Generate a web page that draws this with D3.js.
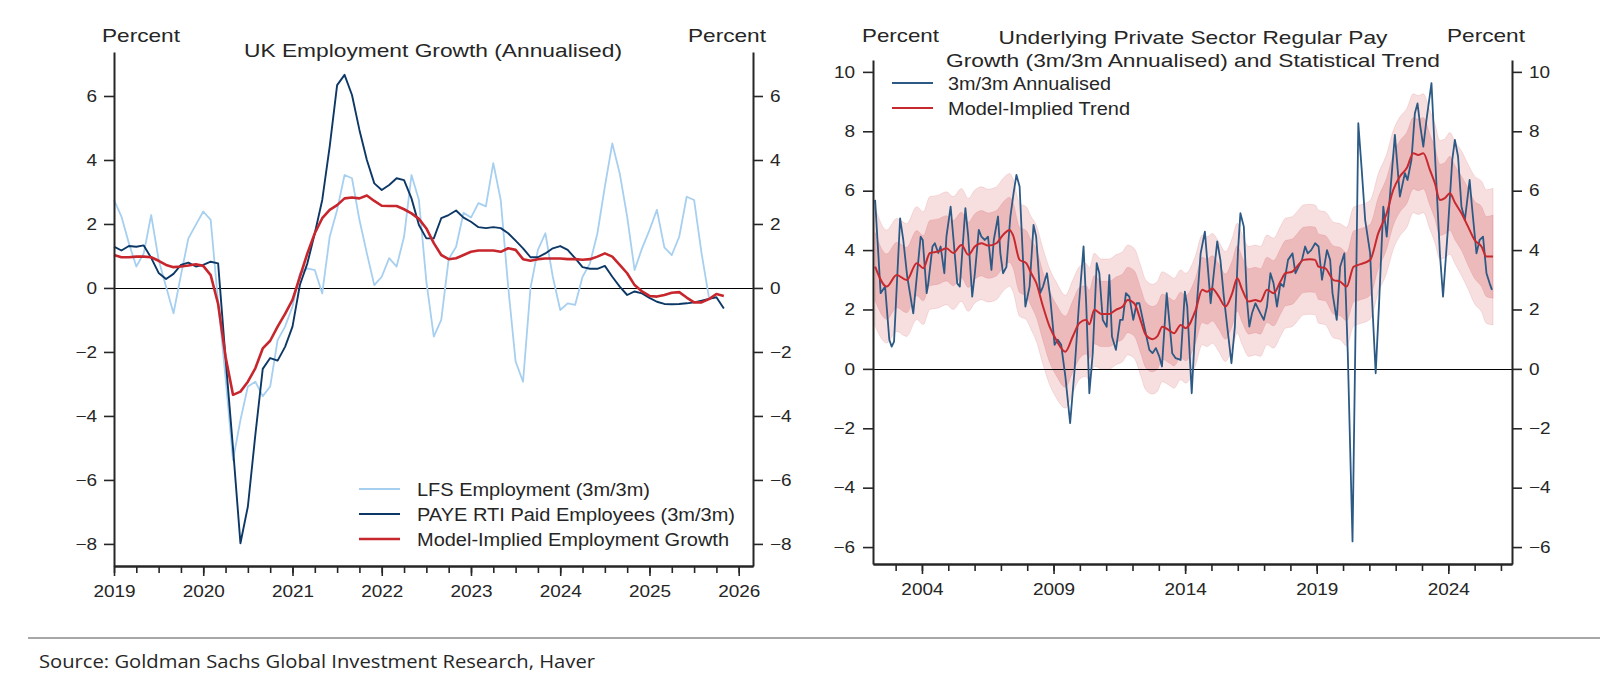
<!DOCTYPE html>
<html>
<head>
<meta charset="utf-8">
<script src="https://cdn.jsdelivr.net/npm/d3@7"></script>
<style>
html, body { margin: 0; padding: 0; background: #fff; }
svg { display: block; }
text { font-family: "Liberation Sans", Arial, sans-serif; fill: #262626; }
</style>
</head>
<body>
<svg id="chart" width="1602" height="698"></svg>
<script>
// ************************
// LEFT PANEL DATA (monthly, starting Jan 2019)
// ************************
var empStart = 2019;

var lfsEmployment = [
  2.75, 2.23, 1.4, 0.67, 1.08, 2.28, 0.88, 0.04, -0.79, 0.4, 1.55, 1.97,
  2.39, 2.13, -0.45, -2.8, -5.38, -4.13, -3.08, -2.93, -3.38, -3.08, -1.63, -1.21,
  -0.58, 0.46, 0.61, 0.56, -0.17, 1.6, 2.44, 3.53, 3.43, 2.13, 1.08, 0.09,
  0.35, 0.93, 0.67, 1.6, 3.53, 2.75, 0.2, -1.52, -1.0, 0.9, 1.29, 2.35,
  2.2, 2.65, 2.55, 3.9, 2.75, 0.04, -2.3, -2.93, 0.0, 1.19, 1.71, 0.35,
  -0.69, -0.48, -0.53, 0.35, 0.77, 1.71, 3.17, 4.52, 3.58, 2.23, 0.56, 1.24,
  1.81, 2.44, 1.27, 1.03, 1.6, 2.85, 2.75, 1.09, -0.3
];

var payeEmployees = [
  1.29, 1.17, 1.31, 1.29, 1.33, 0.94, 0.47, 0.28, 0.44, 0.72, 0.79, 0.67,
  0.72, 0.82, 0.77, -2.2, -5.0, -7.98, -6.83, -4.6, -2.53, -2.19, -2.27, -1.84,
  -1.21, 0.1, 0.77, 1.71, 2.75, 4.42, 6.34, 6.66, 6.03, 4.94, 4.0, 3.27,
  3.06, 3.22, 3.43, 3.37, 2.8, 1.97, 1.55, 1.55, 2.18, 2.28, 2.42, 2.2,
  2.07, 1.9, 1.87, 1.9, 1.87, 1.71, 1.48, 1.24, 0.96, 0.96, 1.08, 1.24,
  1.31, 1.19, 0.93, 0.65, 0.6, 0.6, 0.69, 0.35, 0.04, -0.22, -0.11, -0.17,
  -0.31, -0.43, -0.5, -0.51, -0.5, -0.48, -0.45, -0.4, -0.34, -0.29, -0.64
];

var modelEmployment = [
  1.03, 0.96, 0.96, 0.98, 0.98, 0.96, 0.85, 0.72, 0.65, 0.67, 0.7, 0.74,
  0.69, 0.4, -0.5, -2.15, -3.34, -3.24, -2.93, -2.51, -1.89, -1.65, -1.21, -0.81,
  -0.37, 0.35, 1.08, 1.71, 2.18, 2.44, 2.59, 2.8, 2.83, 2.8, 2.89, 2.72,
  2.57, 2.56, 2.56, 2.46, 2.33, 2.16, 1.86, 1.4, 1.03, 0.9, 0.93, 1.03,
  1.13, 1.17, 1.17, 1.17, 1.13, 1.24, 1.19, 0.9, 0.85, 0.9, 0.92, 0.92,
  0.92, 0.9, 0.9, 0.88, 0.9, 0.98, 1.08, 0.98, 0.72, 0.46, 0.09, -0.11,
  -0.25, -0.27, -0.22, -0.15, -0.13, -0.3, -0.45, -0.45, -0.35, -0.19, -0.25
];

var leftYTicks = [-8, -6, -4, -2, 0, 2, 4, 6];
var leftYearTicks = [2019, 2020, 2021, 2022, 2023, 2024, 2025, 2026];

// ************************
// RIGHT PANEL DATA ([decimal year, percent])
// ************************
var payGrowth = [
  [2002.22, 5.69], [2002.43, 2.55], [2002.60, 2.77], [2002.76, 0.98], [2002.85, 0.75], [2002.94, 0.92],
  [2003.17, 5.07], [2003.29, 4.34], [2003.44, 3.11], [2003.67, 1.87], [2003.95, 4.45], [2004.03, 4.34],
  [2004.18, 2.55], [2004.24, 2.88], [2004.40, 4.12], [2004.49, 4.23], [2004.62, 3.9], [2004.71, 4.12],
  [2004.85, 3.22], [2004.93, 4.45], [2005.09, 5.46], [2005.19, 4.45], [2005.34, 2.88], [2005.44, 2.77],
  [2005.65, 5.41], [2005.76, 4.45], [2005.91, 2.43], [2006.01, 3.22], [2006.16, 4.68], [2006.26, 4.45],
  [2006.39, 4.34], [2006.51, 4.45], [2006.64, 3.33], [2006.73, 4.34], [2006.89, 5.13], [2006.98, 3.89],
  [2007.08, 3.22], [2007.21, 3.44], [2007.36, 5.13], [2007.48, 5.91], [2007.59, 6.53], [2007.71, 6.14],
  [2007.84, 3.67], [2007.93, 2.1], [2008.09, 2.77], [2008.24, 4.85], [2008.34, 4.45], [2008.49, 2.55],
  [2008.60, 2.77], [2008.75, 3.22], [2008.87, 2.43], [2009.04, 0.81], [2009.16, 0.98], [2009.29, 0.81],
  [2009.45, -0.26], [2009.63, -1.83], [2009.80, -0.03], [2009.96, 2.1], [2010.14, 4.12], [2010.24, 2.21],
  [2010.36, -0.82], [2010.49, 0.53], [2010.64, 3.56], [2010.74, 3.22], [2010.87, 1.65], [2011.02, 1.42],
  [2011.12, 3.16], [2011.22, 1.09], [2011.37, 0.64], [2011.53, 1.65], [2011.63, 1.65], [2011.75, 2.55],
  [2011.88, 2.43], [2012.03, 1.65], [2012.16, 2.21], [2012.26, 2.21], [2012.45, 1.42], [2012.64, 0.64],
  [2012.76, 0.53], [2012.89, 0.7], [2013.02, 0.41], [2013.12, 0.08], [2013.30, 2.55], [2013.51, 0.53],
  [2013.64, 0.36], [2013.83, 0.3], [2013.99, 2.6], [2014.08, 2.1], [2014.25, -0.82], [2014.40, 1.65],
  [2014.59, 3.89], [2014.75, 4.62], [2014.88, 3.22], [2014.97, 2.21], [2015.09, 3.22], [2015.22, 4.29],
  [2015.34, 3.67], [2015.47, 2.43], [2015.60, 1.42], [2015.76, 0.19], [2015.89, 1.42], [2016.01, 4.0],
  [2016.10, 5.24], [2016.23, 4.79], [2016.35, 2.32], [2016.44, 1.42], [2016.54, 1.87], [2016.67, 2.21],
  [2016.86, 1.87], [2016.99, 1.65], [2017.11, 2.1], [2017.24, 3.22], [2017.36, 2.88], [2017.49, 2.1],
  [2017.62, 2.88], [2017.74, 2.77], [2017.91, 3.67], [2018.08, 3.89], [2018.19, 3.22], [2018.31, 3.44],
  [2018.44, 3.67], [2018.56, 4.12], [2018.66, 3.89], [2018.79, 4.0], [2018.94, 4.23], [2019.07, 4.12],
  [2019.20, 3.0], [2019.39, 4.0], [2019.51, 3.67], [2019.60, 2.55], [2019.76, 1.65], [2019.89, 3.44],
  [2020.05, 3.89], [2020.18, 0.53], [2020.36, -5.81], [2020.48, 1.65], [2020.58, 8.27], [2020.71, 6.7],
  [2020.84, 5.02], [2021.03, 3.89], [2021.11, 2.21], [2021.24, -0.15], [2021.37, 2.21], [2021.53, 5.46],
  [2021.66, 4.45], [2021.78, 5.8], [2021.97, 7.88], [2022.16, 5.8], [2022.35, 6.59], [2022.45, 6.36],
  [2022.60, 7.04], [2022.73, 8.61], [2022.83, 8.94], [2022.92, 8.27], [2023.05, 7.48], [2023.17, 8.38],
  [2023.36, 9.62], [2023.49, 7.26], [2023.68, 3.89], [2023.80, 2.43], [2023.99, 4.79], [2024.15, 7.04],
  [2024.25, 7.71], [2024.37, 7.15], [2024.50, 5.46], [2024.63, 5.02], [2024.81, 6.36], [2024.90, 5.46],
  [2025.07, 3.89], [2025.19, 4.34], [2025.32, 4.45], [2025.45, 3.22], [2025.57, 2.88], [2025.66, 2.66]
];

var payTrend = [
  [2002.22, 3.44], [2002.66, 2.77], [2003.04, 3.16], [2003.42, 2.99], [2003.80, 3.56], [2004.05, 3.39],
  [2004.30, 3.9], [2004.62, 3.95], [2004.93, 4.06], [2005.19, 3.9], [2005.50, 4.17], [2005.76, 3.84],
  [2006.01, 4.12], [2006.26, 4.23], [2006.51, 4.15], [2006.83, 4.23], [2007.08, 4.51], [2007.33, 4.68],
  [2007.46, 4.5], [2007.71, 3.67], [2007.96, 3.56], [2008.15, 3.22], [2008.34, 2.9], [2008.60, 2.1],
  [2008.85, 1.42], [2009.10, 0.98], [2009.45, 0.58], [2009.73, 1.09], [2009.98, 1.54], [2010.24, 1.65],
  [2010.36, 1.5], [2010.55, 1.99], [2010.81, 1.85], [2011.12, 1.85], [2011.37, 1.99], [2011.63, 2.1],
  [2011.82, 2.32], [2012.07, 2.2], [2012.32, 1.6], [2012.50, 1.15], [2012.76, 1.0], [2012.95, 1.1],
  [2013.13, 1.42], [2013.39, 1.3], [2013.58, 1.2], [2013.83, 1.48], [2014.02, 1.37], [2014.40, 1.98],
  [2014.65, 2.66], [2014.84, 2.6], [2015.03, 2.71], [2015.28, 2.43], [2015.53, 2.1], [2015.79, 2.55],
  [2015.98, 3.05], [2016.17, 2.66], [2016.42, 2.27], [2016.67, 2.32], [2016.86, 2.27], [2017.11, 2.66],
  [2017.36, 2.55], [2017.62, 2.94], [2017.81, 3.22], [2018.06, 3.27], [2018.25, 3.44], [2018.50, 3.67],
  [2018.75, 3.69], [2018.94, 3.67], [2019.07, 3.44], [2019.32, 3.39], [2019.64, 2.99], [2019.89, 2.94],
  [2020.14, 2.77], [2020.40, 3.44], [2020.58, 3.5], [2021.03, 3.67], [2021.34, 4.57], [2021.66, 5.24],
  [2021.91, 6.03], [2022.16, 6.48], [2022.42, 6.76], [2022.67, 7.26], [2022.86, 7.2], [2023.05, 7.26],
  [2023.30, 6.7], [2023.49, 6.25], [2023.68, 5.69], [2023.87, 5.75], [2024.06, 5.91], [2024.25, 5.6],
  [2024.50, 5.24], [2024.75, 4.79], [2025.00, 4.34], [2025.26, 4.12], [2025.45, 3.78], [2025.70, 3.78]
];

// half-widths of the shaded bands around the trend (one per trend point)
var bandInner = [
  1.15, 1.1, 1.1, 1.1, 1.1, 1.1, 1.1, 1.1, 1.1, 1.1, 1.1, 1.1,
  1.1, 1.1, 1.1, 1.1, 1.1, 1.1, 1.1, 1.1, 1.1, 1.1, 1.15, 1.15,
  1.2, 1.2, 1.2, 1.2, 1.2, 1.15, 1.15, 1.15, 1.1, 1.1, 1.1, 1.1,
  1.1, 1.1, 1.1, 1.1, 1.1, 1.1, 1.1, 1.1, 1.1, 1.1, 1.1, 1.1,
  1.1, 1.1, 1.1, 1.1, 1.1, 1.1, 1.1, 1.1, 1.1, 1.1, 1.1, 1.1,
  1.1, 1.1, 1.1, 1.1, 1.1, 1.1, 1.1, 1.1, 1.1, 1.1, 1.15, 1.15,
  1.15, 1.2, 1.2, 1.2, 1.2, 1.2, 1.2, 1.2, 1.2, 1.2, 1.2, 1.2,
  1.2, 1.2, 1.2, 1.2, 1.25, 1.25, 1.25, 1.3, 1.3, 1.35, 1.35, 1.4
];
var bandOuter = [
  2.0, 1.9, 1.9, 1.9, 1.9, 1.9, 1.9, 1.9, 1.9, 1.9, 1.9, 1.9,
  1.9, 1.9, 1.9, 1.9, 1.9, 1.9, 1.9, 1.9, 1.9, 1.9, 1.95, 1.95,
  1.95, 1.95, 1.9, 1.9, 1.9, 1.9, 1.9, 1.9, 1.85, 1.85, 1.85, 1.85,
  1.85, 1.85, 1.85, 1.85, 1.85, 1.85, 1.85, 1.85, 1.85, 1.85, 1.85, 1.85,
  1.85, 1.85, 1.85, 1.85, 1.85, 1.85, 1.85, 1.85, 1.85, 1.85, 1.85, 1.85,
  1.85, 1.85, 1.85, 1.85, 1.85, 1.85, 1.85, 1.85, 1.9, 1.9, 1.95, 1.95,
  2.0, 2.0, 2.0, 2.0, 2.0, 2.0, 2.0, 2.0, 2.0, 2.0, 2.0, 2.0,
  2.0, 2.0, 2.0, 2.0, 2.05, 2.05, 2.1, 2.1, 2.15, 2.2, 2.25, 2.3
];

var rightYTicks = [-6, -4, -2, 0, 2, 4, 6, 8, 10];
var rightYearLabels = [2004, 2009, 2014, 2019, 2024];

var svg = d3.select("#chart");
var inkColor = "#262626";
var textStretch = 1.15;

svg.append("rect").attr("width", 1602).attr("height", 698).attr("fill", "#fff");

// small helper for the (horizontally stretched) chart labels
function label(g, x, y, txt, size, width, anchor) {
  return g.append("text")
    .attr("x", x).attr("y", y)
    .attr("text-anchor", anchor || "start")
    .attr("font-size", size)
    .attr("textLength", width)
    .attr("lengthAdjust", "spacingAndGlyphs")
    .text(txt);
}

function styleAxis(ax, size) {
  ax.select(".domain").attr("stroke", inkColor).attr("stroke-width", 2);
  ax.selectAll(".tick line").attr("stroke", inkColor).attr("stroke-width", 1.6);
  ax.selectAll(".tick text")
    .attr("font-size", size)
    .attr("font-family", "Liberation Sans, Arial, sans-serif")
    .attr("fill", inkColor)
    .attr("x", function () { return (+d3.select(this).attr("x") || 0) / textStretch; })
    .attr("transform", "scale(" + textStretch + ",1)");
}

// ************************
// LEFT PANEL
// ************************
function drawLeft() {
  var L = {left: 114, right: 753, top: 52, bottom: 566};
  var x = d3.scaleLinear().domain([2019, 2026.16]).range([L.left, L.right]);
  var y = d3.scaleLinear().domain([-8.69, 7.375]).range([L.bottom, L.top]);
  var g = svg.append("g");

  // zero line
  g.append("line")
    .attr("x1", L.left).attr("x2", L.right)
    .attr("y1", Math.round(y(0)) + 0.5).attr("y2", Math.round(y(0)) + 0.5)
    .attr("stroke", "#000").attr("stroke-width", 1.2);

  var line = d3.line()
    .x(function (d, i) { return x(empStart + i / 12); })
    .y(function (d) { return y(d); });

  var series = [
    {data: lfsEmployment, color: "#a6cff0", width: 1.8, name: "LFS Employment (3m/3m)", w: 233},
    {data: payeEmployees, color: "#0d3866", width: 1.9, name: "PAYE RTI Paid Employees (3m/3m)", w: 318},
    {data: modelEmployment, color: "#c8262d", width: 2.6, name: "Model-Implied Employment Growth", w: 312}
  ];

  series.forEach(function (s) {
    g.append("path")
      .attr("d", line(s.data))
      .attr("fill", "none")
      .attr("stroke", s.color)
      .attr("stroke-width", s.width)
      .attr("stroke-linejoin", "round");
  });

  // axes
  var quarters = d3.range(2019, 2026.01, 0.25);
  var axMinor = g.append("g").attr("transform", "translate(0," + L.bottom + ")")
    .call(d3.axisBottom(x).tickValues(quarters).tickSize(7).tickSizeOuter(0).tickFormat(""));
  styleAxis(axMinor, 16.5);
  var axBottom = g.append("g").attr("transform", "translate(0," + L.bottom + ")")
    .call(d3.axisBottom(x).tickValues(leftYearTicks).tickSize(10).tickSizeOuter(0).tickFormat(d3.format("d")));
  styleAxis(axBottom, 16.5);
  axBottom.selectAll(".tick text").attr("y", 19.5);

  var axL = g.append("g").attr("transform", "translate(" + L.left + ",0)")
    .call(d3.axisLeft(y).tickValues(leftYTicks).tickSize(10).tickPadding(7).tickSizeOuter(0));
  styleAxis(axL, 16.5);
  var axR = g.append("g").attr("transform", "translate(" + L.right + ",0)")
    .call(d3.axisRight(y).tickValues(leftYTicks).tickSize(10).tickPadding(7).tickSizeOuter(0));
  styleAxis(axR, 16.5);

  // titles
  label(g, 102, 42, "Percent", 18.5, 78);
  label(g, 688, 42, "Percent", 18.5, 78);
  label(g, 433, 57, "UK Employment Growth (Annualised)", 18.5, 378, "middle");

  // legend
  series.forEach(function (s, i) {
    var ly = 489 + i * 25;
    g.append("line")
      .attr("x1", 359).attr("x2", 400).attr("y1", ly).attr("y2", ly)
      .attr("stroke", s.color).attr("stroke-width", s.width);
    label(g, 417, ly + 6.5, s.name, 17.5, s.w);
  });
}

// ************************
// RIGHT PANEL
// ************************
function drawRight() {
  var R = {left: 873, right: 1512, top: 60, bottom: 564};
  var x = d3.scaleLinear().domain([2002.14, 2026.42]).range([R.left, R.right]);
  var y = d3.scaleLinear().domain([-6.57, 10.4]).range([R.bottom, R.top]);
  var g = svg.append("g");

  var bandData = payTrend.map(function (d, i) {
    return {t: d[0], v: d[1], inner: bandInner[i], outer: bandOuter[i]};
  });

  var outerArea = d3.area()
    .x(function (d) { return x(d.t); })
    .y0(function (d) { return y(d.v - d.outer); })
    .y1(function (d) { return y(d.v + d.outer); })
    .curve(d3.curveMonotoneX);
  var innerArea = d3.area()
    .x(function (d) { return x(d.t); })
    .y0(function (d) { return y(d.v - d.inner); })
    .y1(function (d) { return y(d.v + d.inner); })
    .curve(d3.curveMonotoneX);

  g.append("path").attr("d", outerArea(bandData))
    .attr("fill", "#c62a2f").attr("fill-opacity", 0.15)
    .attr("stroke", "#c62a2f").attr("stroke-opacity", 0.12);
  g.append("path").attr("d", innerArea(bandData))
    .attr("fill", "#c62a2f").attr("fill-opacity", 0.2)
    .attr("stroke", "#c62a2f").attr("stroke-opacity", 0.12);

  g.append("line")
    .attr("x1", R.left).attr("x2", R.right)
    .attr("y1", Math.round(y(0)) + 0.5).attr("y2", Math.round(y(0)) + 0.5)
    .attr("stroke", "#000").attr("stroke-width", 1.2);

  var line = d3.line()
    .x(function (d) { return x(d[0]); })
    .y(function (d) { return y(d[1]); });

  g.append("path").attr("d", line(payGrowth))
    .attr("fill", "none").attr("stroke", "#2c5a85").attr("stroke-width", 1.8)
    .attr("stroke-linejoin", "round");
  g.append("path").attr("d", line.curve(d3.curveMonotoneX)(payTrend))
    .attr("fill", "none").attr("stroke", "#c62a2f").attr("stroke-width", 2)
    .attr("stroke-linejoin", "round");

  // axes
  var years = d3.range(2003, 2027);
  var axMinor = g.append("g").attr("transform", "translate(0," + R.bottom + ")")
    .call(d3.axisBottom(x).tickValues(years).tickSize(7).tickSizeOuter(0).tickFormat(""));
  styleAxis(axMinor, 16.5);
  var axBottom = g.append("g").attr("transform", "translate(0," + R.bottom + ")")
    .call(d3.axisBottom(x).tickValues(rightYearLabels).tickSize(10).tickSizeOuter(0).tickFormat(d3.format("d")));
  styleAxis(axBottom, 16.5);
  axBottom.selectAll(".tick text").attr("y", 19.5);

  var axL = g.append("g").attr("transform", "translate(" + R.left + ",0)")
    .call(d3.axisLeft(y).tickValues(rightYTicks).tickSize(10).tickPadding(8).tickSizeOuter(0));
  styleAxis(axL, 16.5);
  var axR = g.append("g").attr("transform", "translate(" + R.right + ",0)")
    .call(d3.axisRight(y).tickValues(rightYTicks).tickSize(10).tickPadding(7).tickSizeOuter(0));
  styleAxis(axR, 16.5);

  label(g, 862, 42, "Percent", 18.5, 77);
  label(g, 1447, 42, "Percent", 18.5, 78);
  label(g, 1193, 44, "Underlying Private Sector Regular Pay", 18.5, 389, "middle");
  label(g, 1193, 66.5, "Growth (3m/3m Annualised) and Statistical Trend", 18.5, 494, "middle");

  var legend = [
    {name: "3m/3m Annualised", color: "#2c5a85", width: 1.8, w: 163},
    {name: "Model-Implied Trend", color: "#c62a2f", width: 2, w: 182}
  ];
  legend.forEach(function (s, i) {
    var ly = 83 + i * 25;
    g.append("line")
      .attr("x1", 892).attr("x2", 933).attr("y1", ly).attr("y2", ly)
      .attr("stroke", s.color).attr("stroke-width", s.width);
    label(g, 948, ly + 6.5, s.name, 17.5, s.w);
  });
}

drawLeft();
drawRight();

// footer
svg.append("line")
  .attr("x1", 28).attr("x2", 1600).attr("y1", 638).attr("y2", 638)
  .attr("stroke", "#8a8a8a").attr("stroke-width", 1.5);
svg.append("text")
  .attr("x", 39).attr("y", 668)
  .attr("font-size", 18.5)
  .attr("textLength", 556)
  .attr("lengthAdjust", "spacingAndGlyphs")
  .style("font-family", "'Open Sans', 'Noto Sans', sans-serif")
  .attr("fill", "#1a1a1a")
  .text("Source: Goldman Sachs Global Investment Research, Haver");
</script>
</body>
</html>
